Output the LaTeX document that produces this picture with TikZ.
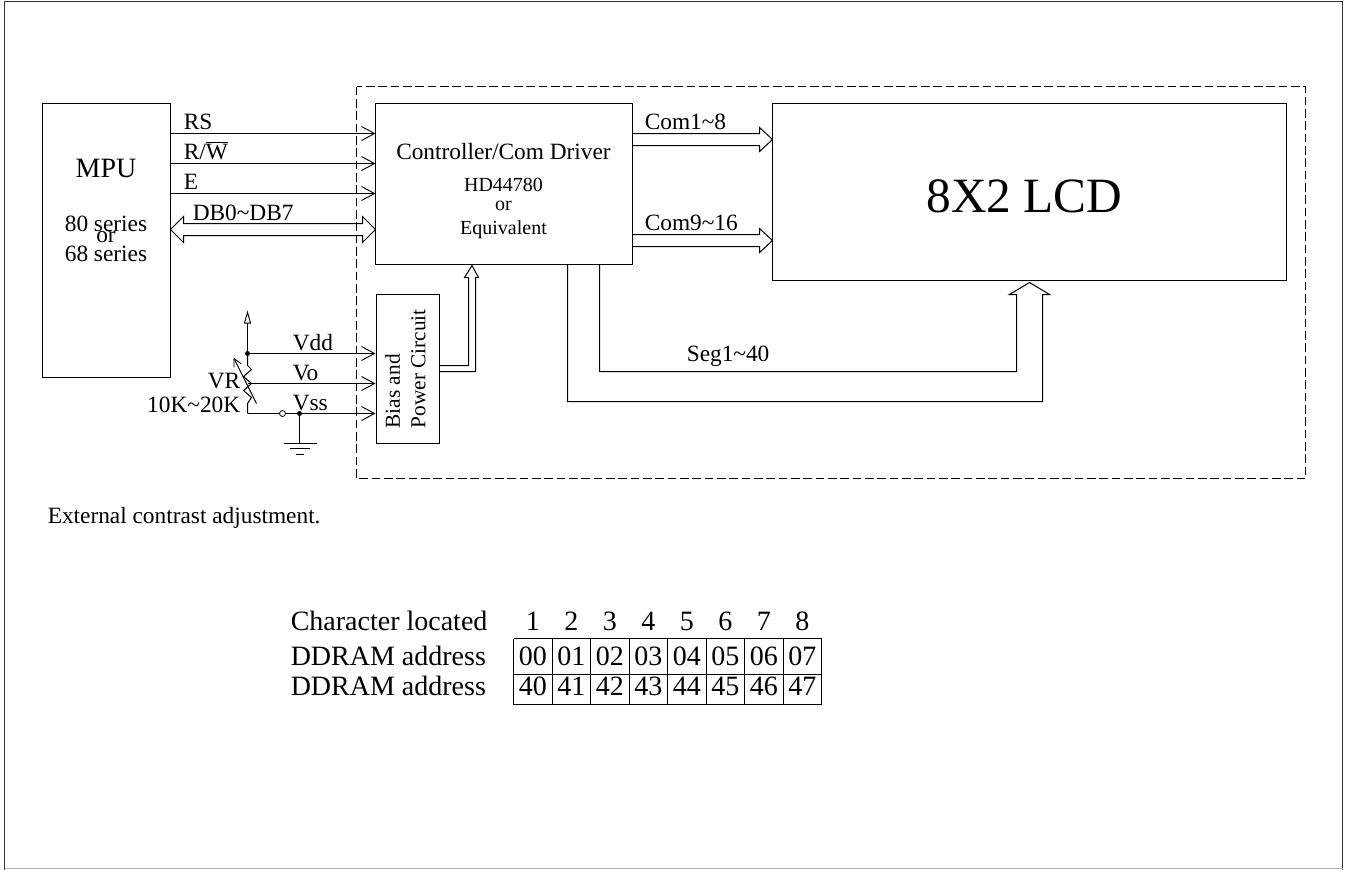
\documentclass[tikz,border=0pt]{standalone}
\usepackage{fontspec}
\setmainfont{Liberation Serif}
\usetikzlibrary{arrows.meta}
\tikzset{
	blockbox/.style={draw,line width=0.75pt,anchor=north west,inner sep=0pt},
	wire/.style={line width=0.75pt},
	barb/.style={wire,-{Straight Barb[length=9.75pt,width=10.5pt,line width=0.7pt]}},
	busline/.style={line width=0.75pt,line join=miter},
	lab/.style={font=\fontsize{17.5pt}{17.5pt}\selectfont,inner sep=0pt,anchor=base west},
	small/.style={font=\fontsize{15pt}{15pt}\selectfont,inner sep=0pt,anchor=base},
	mid/.style={font=\fontsize{17.5pt}{17.5pt}\selectfont,inner sep=0pt,anchor=base},
	cell/.style={font=\fontsize{21pt}{21pt}\selectfont,inner sep=0pt,anchor=base}
}
\begin{document}
\begin{tikzpicture}[x=0.75pt,y=-0.75pt]
	\useasboundingbox (-0.5,-0.5) rectangle (1344.5,868.5);
	%FRAME
	\draw[line width=0.75pt,black!80] (4,869) -- (4,1) -- (1342,1) -- (1342,869);
	\draw[line width=0.6pt,black!30] (4,867.5) -- (1342,867.5);
	%BLOCKS
	\draw[dash pattern=on 6.5pt off 2.75pt,line width=0.75pt] (356,86) rectangle (1305,478);
	\node[blockbox,minimum width=96pt,minimum height=205.5pt] (mpu) at (41.5,102.5) {};
	\node[blockbox,minimum width=192.75pt,minimum height=120.75pt] (ctrl) at (374.5,102.5) {};
	\node[blockbox,minimum width=385.5pt,minimum height=132.75pt] (lcd) at (771.5,102.5) {};
	\node[blockbox,minimum width=47.25pt,minimum height=111.75pt] (bias) at (375.5,293.5) {};
	%BLOCK TEXT
	\node[font=\fontsize{21pt}{21pt}\selectfont,inner sep=0pt,anchor=base] (mputext) at (105.5,177) {MPU};
	\node[mid] (s80) at (105.5,231) {80 series};
	\node[mid] (sor) at (105.5,242) {or};
	\node[mid] (s68) at (105.5,261) {68 series};
	\node[mid] (ctrltext) at (503,159) {Controller/Com Driver};
	\node[small] (hd) at (503,191) {HD44780};
	\node[small] (hdor) at (503,210) {or};
	\node[small] (equiv) at (503,234) {Equivalent};
	\node[font=\fontsize{37pt}{37pt}\selectfont,inner sep=0pt] (lcdtext) at (1024,196) {8X2 LCD};
	\node[font=\fontsize{16pt}{16pt}\selectfont,inner sep=0pt,rotate=90,anchor=west] (biasa) at (392,428) {Bias and};
	\node[font=\fontsize{16pt}{16pt}\selectfont,inner sep=0pt,rotate=90,anchor=west] (biasb) at (418,428) {Power Circuit};
	%MPU SIGNALS
	\coordinate (rsA) at (170,133);
	\coordinate (rsB) at (375,133);
	\coordinate (rwA) at (170,163);
	\coordinate (rwB) at (375,163);
	\coordinate (eA) at (170,193);
	\coordinate (eB) at (375,193);
	\draw[barb] (rsA) -- (rsB);
	\draw[barb] (rwA) -- (rwB);
	\draw[barb] (eA) -- (eB);
	\node[lab] (rslab) at (183,129) {RS};
	\node[lab] (rwlab) at (183,159) {R/$\overline{\mbox{W}}$};
	\node[lab] (elab) at (183,189) {E};
	\node[lab] (dblab) at (192,220) {DB0\char126 DB7};
	%DATA BUS
	\coordinate (dbL) at (170,229);
	\coordinate (dbR) at (375,229);
	\draw[busline] (dbL) -- ++(13,-13) -- ++(0,7) -- ++(179,0) -- ++(0,-7) -- (dbR) -- ++(-13,13) -- ++(0,-7) -- ++(-179,0) -- ++(0,7) -- cycle;
	%COM LINES
	\coordinate (comaTip) at (772,139);
	\coordinate (combTip) at (772,240);
	\draw[busline] (632,133) -- (759,133) -- ++(0,-6) -- (comaTip) -- (759,151) -- ++(0,-6) -- (632,145);
	\draw[busline] (632,234) -- (759,234) -- ++(0,-6) -- (combTip) -- (759,252) -- ++(0,-6) -- (632,246);
	\node[lab] (comalab) at (644,129) {Com1\char126 8};
	\node[lab] (comblab) at (644,230) {Com9\char126 16};
	%SEG LINES
	\coordinate (segTip) at (1029,282);
	\draw[busline] (567,264) -- (567,401) -- (1042,401) -- (1042,294) -- (1049,294) -- (segTip) -- (1009,294) -- (1016,294) -- (1016,371) -- (599,371) -- (599,264);
	\node[lab] (seglab) at (686,361) {Seg1\char126 40};
	%POWER TO CONTROLLER
	\coordinate (pwrTip) at (471.5,265);
	\draw[busline] (439,365) -- (468,365) -- (468,277) -- (464,277) -- (pwrTip) -- (478,277) -- (475,277) -- (475,371) -- (439,371);
	%VOLTAGES
	\coordinate (vdd) at (247,353);
	\coordinate (vo) at (247,383);
	\coordinate (vss) at (247,413);
	\coordinate (vtop) at (247,310);
	\coordinate (gnd) at (299,413);
	\coordinate (gndB) at (299,443);
	\coordinate (vddB) at (375,353);
	\coordinate (voB) at (375,383);
	\coordinate (vssB) at (375,413);
	\draw[barb] (vdd) -- (vddB);
	\draw[barb] (vo) -- (voB);
	\draw[barb] (vss) -- (vssB);
	\draw[wire,-{Triangle[open,length=9.75pt,width=5.25pt,line width=0.7pt]}] (vdd) -- (vtop);
	\draw[wire] (vdd) -- ++(0,12) -- ++(4,4) -- ++(-8,7) -- ++(8,7) -- ++(-8,7) -- ++(8,7) -- ++(-4,6) -- (vss);
	\draw[wire,-{Straight Barb[length=6pt,width=6pt,line width=0.7pt]}] (256,403) -- (233,357);
	\fill (vdd) circle (2.5);
	\fill (gnd) circle (2.5);
	\node[circle,draw,fill=white,inner sep=0pt,minimum size=4.5pt,line width=0.6pt] (sw) at (282,413) {};
	\draw[wire] (gnd) -- (gndB);
	\draw[wire] (283,443) -- (316,443);
	\draw[wire] (289,448) -- (309,448);
	\draw[wire] (295,454) -- (303,454);
	\node[lab] (vddlab) at (292,350) {Vdd};
	\node[lab] (volab) at (292,380) {Vo};
	\node[lab] (vsslab) at (292,410) {Vss};
	\node[lab,anchor=base east] (vrlab) at (240,388) {VR};
	\node[lab,anchor=base east] (kilo) at (240,412) {10K\char126 20K};
	%CAPTION
	\node[lab] (caption) at (47,523) {External contrast adjustment.};
	%TABLE
	\node[cell,anchor=base west] (charlab) at (290,630) {Character located};
	\node[cell,anchor=base west] (ddra) at (290,665) {DDRAM address};
	\node[cell,anchor=base west] (ddrb) at (290,695) {DDRAM address};
	\foreach \i in {1,...,8}{
		\node[cell] (n\i) at ({513+38.5*(\i-0.5)},630) {\i};
		\pgfmathtruncatemacro{\j}{\i-1}
		\node[cell] (a\i) at ({513+38.5*(\i-0.5)},665) {0\j};
		\node[cell] (b\i) at ({513+38.5*(\i-0.5)},695) {4\j};
	}
	\foreach \i in {0,...,8}
		\draw[line width=0.75pt] ({513+38.5*\i},638) -- ({513+38.5*\i},704);
	\foreach \y in {638,674,704}
		\draw[line width=0.75pt] (513,\y) -- (821,\y);
\end{tikzpicture}
\end{document}
